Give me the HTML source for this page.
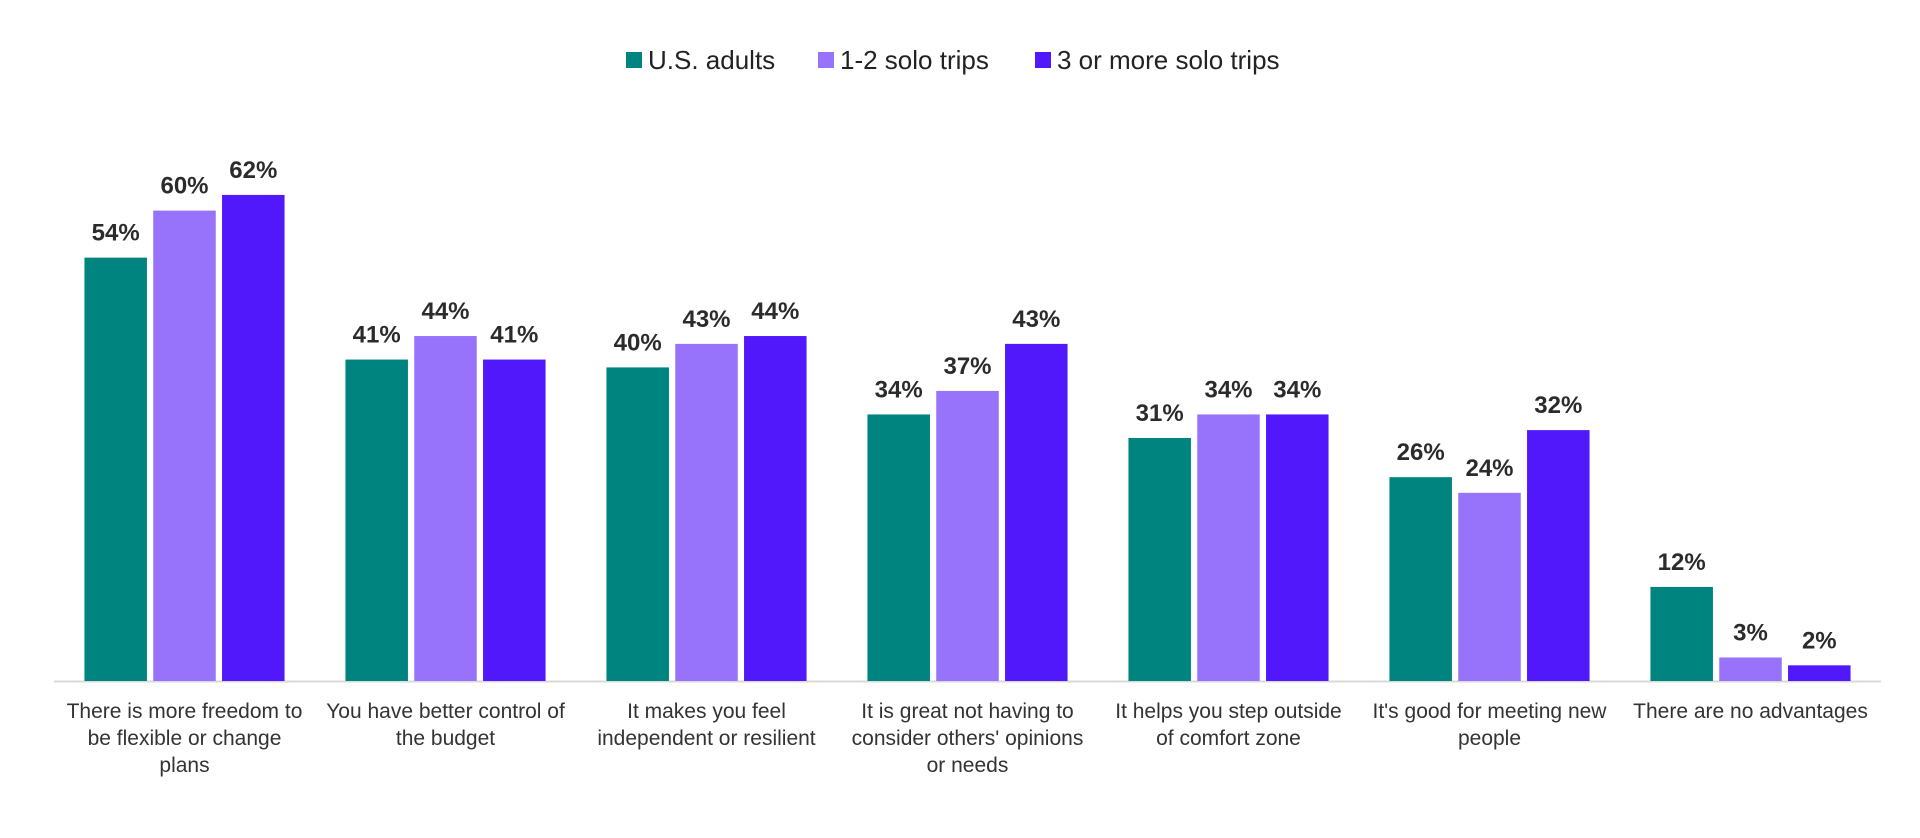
<!DOCTYPE html>
<html><head><meta charset="utf-8"><style>
html,body{margin:0;padding:0;background:#fff;}
svg{display:block;font-family:"Liberation Sans",Arial,sans-serif;}
</style></head><body>
<svg id="chart" width="1920" height="838" viewBox="0 0 1920 838" xmlns="http://www.w3.org/2000/svg">
<g>
<g><rect x="626" y="52" width="16" height="16" fill="#008480"/><text x="648" y="69" font-size="26" fill="#222">U.S. adults</text></g>
<g><rect x="818" y="52" width="16" height="16" fill="#9673FA"/><text x="840" y="69" font-size="26" fill="#222">1-2 solo trips</text></g>
<g><rect x="1035" y="52" width="16" height="16" fill="#5018FA"/><text x="1057" y="69" font-size="26" fill="#222">3 or more solo trips</text></g>
</g>
<line x1="54" y1="681.5" x2="1881" y2="681.5" stroke="#d9d9d9" stroke-width="2"/>
<g id="bars"></g>
<g id="xlabels"></g>
</svg>
<script>
const categories = [
 ["There is more freedom to","be flexible or change","plans"],
 ["You have better control of","the budget"],
 ["It makes you feel","independent or resilient"],
 ["It is great not having to","consider others' opinions","or needs"],
 ["It helps you step outside","of comfort zone"],
 ["It's good for meeting new","people"],
 ["There are no advantages"]
];
const usAdults = [54,41,40,34,31,26,12];
const soloTrips12 = [60,44,43,37,34,24,3];
const soloTrips3plus = [62,41,44,43,34,32,2];

const seriesList = [usAdults, soloTrips12, soloTrips3plus];
const seriesNames = ['us-adults','1-2-solo-trips','3-or-more-solo-trips'];
const colors = ['#008480','#9673FA','#5018FA'];
const NS = 'http://www.w3.org/2000/svg';
const plotLeft = 54, catW = 261, baseY = 681, pxPer = 7.84, barW = 62.5, barGap = 6.3;
function xCenter(i){ return plotLeft + catW/2 + i*catW; }
function y(v){ return baseY - v*pxPer; }
const bars = document.getElementById('bars');
const xl = document.getElementById('xlabels');
categories.forEach((lines, i) => {
  const start = xCenter(i) - (3*barW + 2*barGap)/2;
  seriesList.forEach((s, k) => {
    const v = s[i];
    const x = start + k*(barW + barGap);
    const r = document.createElementNS(NS,'rect');
    r.setAttribute('x', x); r.setAttribute('y', y(v));
    r.setAttribute('width', barW); r.setAttribute('height', baseY - y(v));
    r.setAttribute('fill', colors[k]);
    
    
    bars.appendChild(r);
    const t = document.createElementNS(NS,'text');
    t.setAttribute('x', x + barW/2); t.setAttribute('y', y(v) - 17);
    t.setAttribute('text-anchor','middle'); t.setAttribute('font-size','24');
    t.setAttribute('font-weight','bold'); t.setAttribute('fill','#2b2b2b');
    t.textContent = v + '%';
    
    
    bars.appendChild(t);
  });
  const t = document.createElementNS(NS,'text');
  t.setAttribute('text-anchor','middle'); t.setAttribute('font-size','21'); t.setAttribute('fill','#333');
  
  
  lines.forEach((ln, j) => {
    const sp = document.createElementNS(NS,'tspan');
    sp.setAttribute('x', xCenter(i)); sp.setAttribute('y', 718 + j*27);
    sp.textContent = ln;
    t.appendChild(sp);
  });
  xl.appendChild(t);
});
</script>
</body></html>
